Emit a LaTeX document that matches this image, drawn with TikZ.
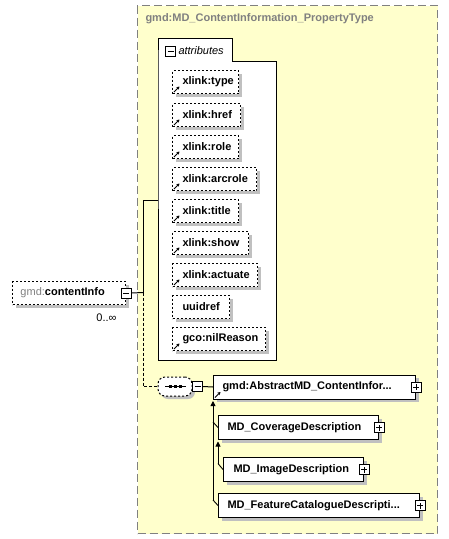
\documentclass[tikz,border=0pt]{standalone}
\usepackage{fontspec}
\setmainfont{Liberation Sans}
\usetikzlibrary{shadows,arrows.meta}
\definecolor{ylw}{RGB}{255,255,204}
\definecolor{bgray}{RGB}{128,128,128}
\definecolor{shd}{RGB}{192,192,192}
\tikzset{
  shad/.style={general shadow={fill=shd, shadow xshift=3pt, shadow yshift=-3pt}},
  lbl/.style={font=\fontsize{11}{13}\selectfont\bfseries},
  attrbox/.style={draw, dash pattern=on 2pt off 2pt, fill=white, shad, anchor=north west,
    minimum height=23pt, inner xsep=0pt, inner ysep=0pt, align=left, lbl},
  elbox/.style={draw, fill=white, shad, anchor=north west,
    minimum height=24pt, inner xsep=0pt, inner ysep=0pt, align=left, lbl},
  pmbox/.style={draw, fill=white, minimum size=10pt, inner sep=0pt},
  conn/.style={line width=1pt},
  tipup/.style={-{Triangle[length=5pt,width=5pt]}},
}
\newcommand\xarrow[1]{\draw[line width=0.9pt,-{Stealth[length=3pt,width=3.5pt]}] ([xshift=2pt,yshift=2pt]#1.south west) -- ([xshift=7.5pt,yshift=7.5pt]#1.south west);}
\newcommand\attrnode[4]{\node[attrbox, text width=#3pt] (#1) at (172,#2) {\hspace*{10pt}#4};}
\newcommand\plusin[2]{\node[pmbox] (#1) at (#2.east) {};
  \draw (#1.center) ++(-3pt,0) -- ++(6pt,0) (#1.center) ++(0,-3pt) -- ++(0,6pt);}
\begin{document}
\begin{tikzpicture}[x=1pt,y=-1pt,line width=1pt]
\useasboundingbox (0,0) rectangle (448,539);
% outer complex type box
\node[draw=bgray, fill=ylw, dash pattern=on 8pt off 4pt, line width=1pt, anchor=north west,
  minimum width=300pt, minimum height=528pt, inner sep=0pt] (ctype) at (137,5) {};
\node[anchor=west, lbl, text=bgray, inner sep=0pt] (ctitle) at (145,19) {gmd:MD\_ContentInformation\_PropertyType};
% attributes container
\draw[fill=white] (158,61) -- (158,38) -- (232,38) -- (232,61) -- (276,61) -- (276,360) -- (158,360) -- cycle;
\coordinate (attrL) at (158,200);
\node[pmbox] (attrmin) at (170.5,51.5) {};
\draw (attrmin.center) ++(-3pt,0) -- ++(6pt,0);
\node[anchor=west, inner sep=0pt, font=\fontsize{11}{13}\selectfont\itshape] (attrtxt) at (178,51) {attributes};
% attributes
\attrnode{atype}{70}{66}{xlink:type}
\attrnode{ahref}{103}{68}{xlink:href}
\attrnode{arole}{135}{66}{xlink:role}
\attrnode{aarc}{167}{84}{xlink:arcrole}
\attrnode{atitle}{199}{66}{xlink:title}
\attrnode{ashow}{231}{76}{xlink:show}
\attrnode{aact}{263}{85}{xlink:actuate}
\attrnode{auuid}{295}{57}{uuidref}
\attrnode{anil}{327}{93}{gco:nilReason}
\foreach \n in {atype,ahref,arole,aarc,atitle,ashow,aact,anil} {\xarrow{\n}}
% element contentInfo
\node[attrbox, minimum height=23pt, text width=113pt, lbl] (cinfo) at (12,281)
  {\hspace*{8pt}{\mdseries\color{bgray}gmd:}contentInfo};
\node[pmbox] (cmin) at (cinfo.east) {};
\draw (cmin.center) ++(-3pt,0) -- ++(6pt,0);
\node[anchor=north east, inner sep=0pt, font=\fontsize{11}{13}\selectfont] (card) at (117,313) {0..∞};
% connectors from contentInfo
\coordinate (j1) at (143,292.5);
\coordinate (j0) at (143,200);
\coordinate (j2) at (143,386.5);
\draw[conn] (cmin.east) -- (j1);
\draw[conn] (j1) -- (j0) -- (attrL);
% sequence
\node[draw, dash pattern=on 2pt off 2pt, fill=white, shad, rounded corners=7pt,
  minimum width=34pt, minimum height=19pt, inner sep=0pt] (seq) at (175,386.5) {};
\draw (seq.center) ++(-10pt,0) -- ++(21pt,0);
\foreach \dx in {-5,0,5} \fill ([xshift=\dx pt]seq.center) +(-1.5pt,-1.5pt) rectangle +(1.5pt,1.5pt);
\node[pmbox] (smin) at (197.5,386.5) {};
\draw (smin.center) ++(-3pt,0) -- ++(6pt,0);
\draw[conn, dash pattern=on 3pt off 2pt] (j1) -- (j2) -- (seq.west);
\draw[conn] (seq.east) -- (smin.west);
% elements
\node[elbox, text width=202pt] (abs) at (213,374.5) {\hspace*{9pt}gmd:AbstractMD\_ContentInfor...};
\xarrow{abs}
\plusin{absp}{abs}
\draw[conn] (smin.east) -- (abs.west);
\node[elbox, text width=160pt] (cov) at (218,415) {\hspace*{9pt}MD\_CoverageDescription};
\plusin{covp}{cov}
\node[elbox, text width=140pt] (img) at (223,457) {\hspace*{10pt}MD\_ImageDescription};
\plusin{imgp}{img}
\node[elbox, text width=201pt] (feat) at (218,493) {\hspace*{9pt}MD\_FeatureCatalogueDescripti...};
\plusin{featp}{feat}
% substitution connectors
\coordinate (s0) at (213,500);
\coordinate (s1) at (213,422);
\coordinate (t0) at (218,463.5);
\draw[line width=0.9pt, tipup] (s0) -- ([yshift=-1.5pt]abs.south west);
\draw[line width=0.9pt] (s1) -- (cov.west);
\draw[line width=0.9pt] (s0) -- (feat.west);
\draw[line width=0.9pt, tipup] (t0) -- ([yshift=-1.5pt]cov.south west);
\draw[line width=0.9pt] (t0) -- (img.west);
\end{tikzpicture}
\end{document}
